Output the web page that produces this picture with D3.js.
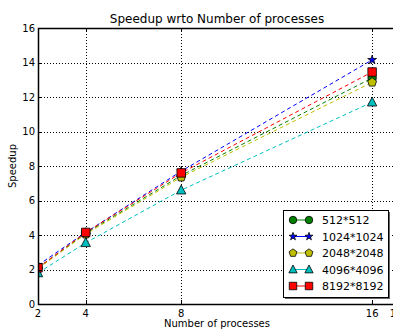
<!DOCTYPE html>
<html>
<head>
<meta charset="utf-8">
<script src="https://cdn.jsdelivr.net/npm/d3@7"></script>
<style>
body { margin: 0; background: #fff; }
svg { font-family: "DejaVu Sans", sans-serif; }
</style>
</head>
<body>
<div id="chart"></div>
<script>
var procs = [2, 4, 8, 16];
var xTicks = [2, 4, 8, 16, 17];
var yTicks = [0, 2, 4, 6, 8, 10, 12, 14, 16];
var seriesNames = ["512*512", "1024*1024", "2048*2048", "4096*4096", "8192*8192"];
var speed512 = [2.1, 4.1, 7.45, 13.1];
var speed1024 = [2.25, 4.15, 7.7, 14.15];
var speed2048 = [2.05, 4.05, 7.35, 12.85];
var speed4096 = [1.8, 3.55, 6.6, 11.7];
var speed8192 = [2.1, 4.15, 7.6, 13.45];

var series = [
	{ name: seriesNames[0], values: speed512, color: "#008000", marker: "circle" },
	{ name: seriesNames[1], values: speed1024, color: "#0000ff", marker: "star" },
	{ name: seriesNames[2], values: speed2048, color: "#bfbf00", marker: "pentagon" },
	{ name: seriesNames[3], values: speed4096, color: "#00bfbf", marker: "triangle" },
	{ name: seriesNames[4], values: speed8192, color: "#ff0000", marker: "square" }
];

var width = 393, height = 329,
	plotL = 38, plotR = 396, plotT = 28, plotB = 304;

var x = d3.scaleLinear().domain([2, 17]).range([plotL, plotR]),
	y = d3.scaleLinear().domain([0, 16]).range([plotB, plotT]);

var svg = d3.select("#chart").append("svg")
	.attr("width", width)
	.attr("height", height);

svg.append("defs").append("clipPath")
	.attr("id", "plotclip")
	.append("rect")
	.attr("x", plotL).attr("y", plotT)
	.attr("width", plotR - plotL).attr("height", plotB - plotT);

// grid
var grid = svg.append("g").attr("stroke", "#000").attr("stroke-width", 1)
	.attr("stroke-dasharray", "1,2").attr("shape-rendering", "crispEdges");
grid.selectAll("line.gx").data(xTicks).enter().append("line")
	.attr("x1", function(d) { return Math.round(x(d)) + 0.5; })
	.attr("x2", function(d) { return Math.round(x(d)) + 0.5; })
	.attr("y1", plotT).attr("y2", plotB);
grid.selectAll("line.gy").data(yTicks).enter().append("line")
	.attr("y1", function(d) { return Math.round(y(d)) + 0.5; })
	.attr("y2", function(d) { return Math.round(y(d)) + 0.5; })
	.attr("x1", plotL).attr("x2", plotR);

function markerPath(type, s) {
	if (type === "circle") return d3.symbol(d3.symbolCircle, s * s * 0.78)();
	if (type === "square") return d3.symbol(d3.symbolSquare, s * s)();
	if (type === "triangle") {
		var h = s;
		return "M0," + (-h * 0.6) + "L" + (h * 0.55) + "," + (h * 0.45) + "L" + (-h * 0.55) + "," + (h * 0.45) + "Z";
	}
	if (type === "pentagon") {
		var r = s * 0.55, pts = [];
		for (var i = 0; i < 5; i++) {
			var a = -Math.PI / 2 + i * 2 * Math.PI / 5;
			pts.push([r * Math.cos(a), r * Math.sin(a)]);
		}
		return "M" + pts.join("L") + "Z";
	}
	if (type === "star") return d3.symbol(d3.symbolStar, s * s * 0.3)();
}

var plot = svg.append("g").attr("clip-path", "url(#plotclip)");
var line = d3.line()
	.x(function(d, i) { return x(procs[i]); })
	.y(function(d) { return y(d); });

series.forEach(function(s) {
	plot.append("path")
		.attr("d", line(s.values))
		.attr("fill", "none")
		.attr("stroke", s.color)
		.attr("stroke-width", 1)
		.attr("stroke-dasharray", "4,3");
});
series.forEach(function(s) {
	plot.selectAll(null).data(s.values).enter().append("path")
		.attr("transform", function(d, i) { return "translate(" + x(procs[i]) + "," + y(d) + ")"; })
		.attr("d", markerPath(s.marker, s.marker === "star" ? 9 : 8.5))
		.attr("fill", s.color)
		.attr("stroke", "#000")
		.attr("stroke-width", 0.8);
});

// frame
svg.append("rect")
	.attr("x", plotL + 0.5).attr("y", plotT + 0.5)
	.attr("width", plotR - plotL).attr("height", plotB - plotT)
	.attr("fill", "none").attr("stroke", "#000").attr("stroke-width", 1.5);

// ticks (inward)
var ticks = svg.append("g").attr("stroke", "#000").attr("stroke-width", 1);
xTicks.forEach(function(t) {
	var px = Math.round(x(t)) + 0.5;
	ticks.append("line").attr("x1", px).attr("x2", px).attr("y1", plotB).attr("y2", plotB - 4);
	ticks.append("line").attr("x1", px).attr("x2", px).attr("y1", plotT).attr("y2", plotT + 4);
});
yTicks.forEach(function(t) {
	var py = Math.round(y(t)) + 0.5;
	ticks.append("line").attr("y1", py).attr("y2", py).attr("x1", plotL).attr("x2", plotL + 4);
	ticks.append("line").attr("y1", py).attr("y2", py).attr("x1", plotR).attr("x2", plotR - 4);
});

svg.selectAll("text.xt").data(xTicks).enter().append("text")
	.attr("x", function(d) { return x(d); })
	.attr("y", plotB + 13)
	.attr("text-anchor", "middle")
	.attr("font-size", 10)
	.text(function(d) { return d; });
svg.selectAll("text.yt").data(yTicks).enter().append("text")
	.attr("x", plotL - 3)
	.attr("y", function(d) { return y(d) + 3.5; })
	.attr("text-anchor", "end")
	.attr("font-size", 10)
	.text(function(d) { return d; });

svg.append("text").attr("x", 217).attr("y", 23).attr("text-anchor", "middle")
	.attr("font-size", 12).text("Speedup wrto Number of processes");
svg.append("text").attr("x", 217).attr("y", 327).attr("text-anchor", "middle")
	.attr("font-size", 10).text("Number of processes");
svg.append("text").attr("transform", "translate(16,166) rotate(-90)")
	.attr("text-anchor", "middle").attr("font-size", 10).text("Speedup");

// legend
var lx = 283, ly = 210, lw = 105, lh = 87;
svg.append("rect").attr("x", lx + 2).attr("y", ly + 2).attr("width", lw).attr("height", lh)
	.attr("fill", "#666");
svg.append("rect").attr("x", lx + 0.5).attr("y", ly + 0.5).attr("width", lw).attr("height", lh)
	.attr("fill", "#fff").attr("stroke", "#000").attr("stroke-width", 1);
var leg = svg.selectAll("g.leg").data(series).enter().append("g")
	.attr("transform", function(d, i) { return "translate(0," + (220 + i * 16.5) + ")"; });
leg.append("line").attr("x1", 293).attr("x2", 309).attr("y1", 0).attr("y2", 0)
	.attr("stroke", function(d) { return d.color; });
[293, 309].forEach(function(mx) {
	leg.append("path")
		.attr("transform", "translate(" + mx + ",0)")
		.attr("d", function(d) { return markerPath(d.marker, d.marker === "star" ? 8 : 7.5); })
		.attr("fill", function(d) { return d.color; })
		.attr("stroke", "#000").attr("stroke-width", 0.8);
});
leg.append("text").attr("x", 322).attr("y", 4).attr("font-size", 11)
	.text(function(d) { return d.name; });
</script>
</body>
</html>
